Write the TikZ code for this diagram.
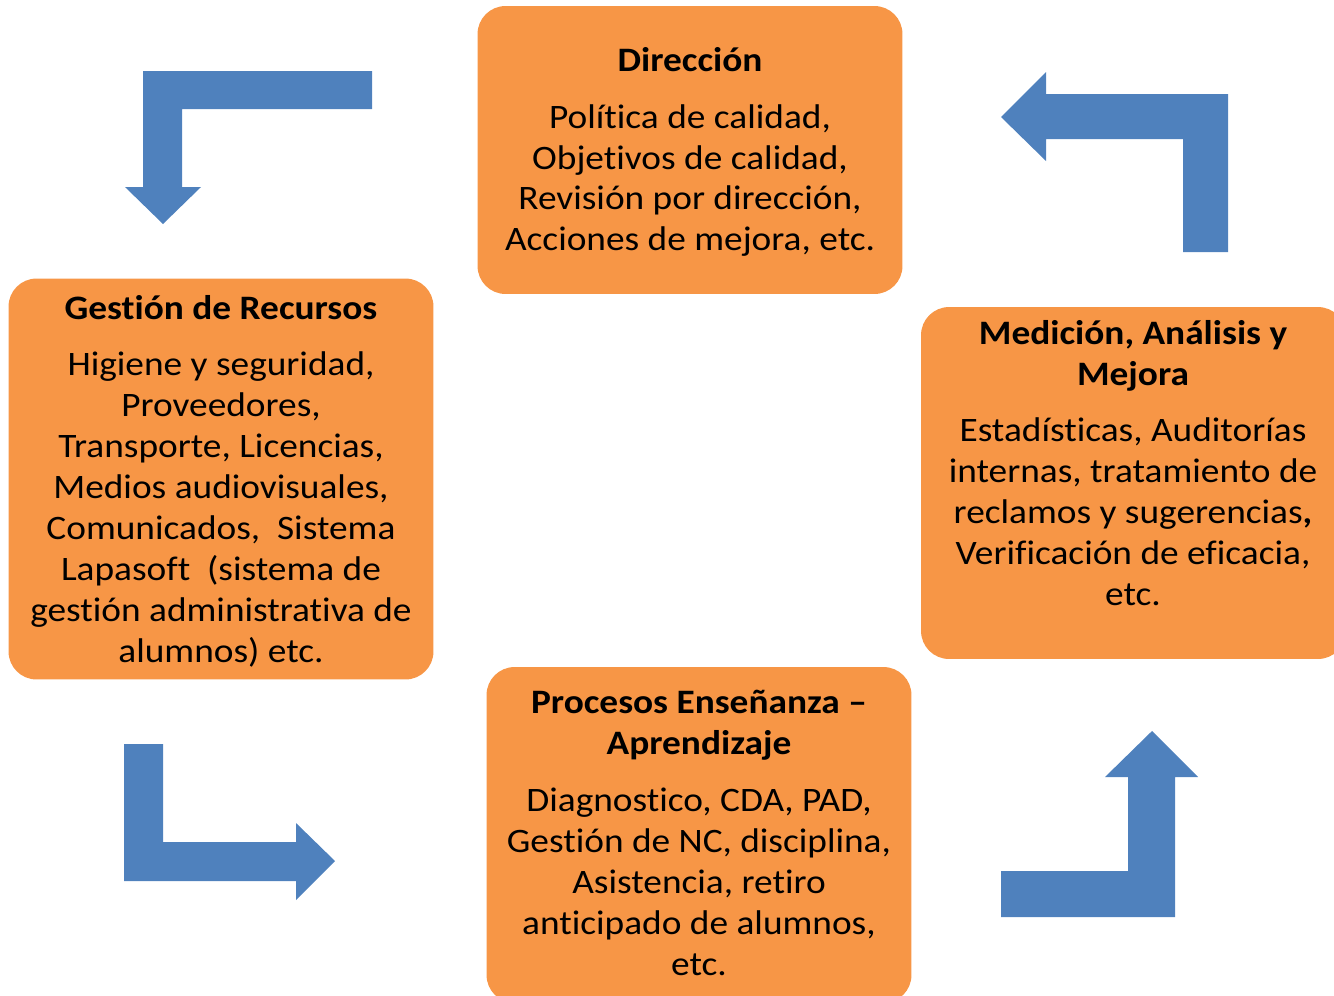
\documentclass[tikz,border=0pt]{standalone}
\usepackage{fontspec}
\setmainfont{Carlito}[FakeStretch=1.09,Ligatures={NoCommon}]
\definecolor{naranja}{HTML}{F79646}
\definecolor{azul}{HTML}{4F81BD}

\begin{document}
\begin{tikzpicture}[x=0.02cm,y=-0.02cm,
  caja/.style={fill=naranja,draw=none,rounded corners=0.56cm,minimum width=8.5cm},
  texto/.style={align=center,inner sep=0pt,font=\fontsize{19.5pt}{23.3pt}\selectfont},
  flecha/.style={fill=azul,draw=none}]

\clip (0,0) rectangle (1334,995); %marco

% cajas
\node[caja,minimum height=5.76cm] (dir) at (690,150) {};
\node[caja,minimum height=8.02cm] (rec) at (221,479) {};
\node[caja,minimum height=7.04cm] (med) at (1133.5,483) {};
\node[caja,minimum height=6.72cm] (pro) at (699,835) {};

% textos
\node[texto] (dirtxt) at (690,152) {\textbf{Dirección}\\[9pt]
  Política de calidad,\\ Objetivos de calidad,\\ Revisión por dirección,\\ Acciones de mejora, etc.};
\node[texto] (rectxt) at (221,481) {\textbf{Gestión de Recursos}\\[9pt]
  Higiene y seguridad,\\ Proveedores,\\ Transporte, Licencias,\\ Medios audiovisuales,\\
  Comunicados,\ \ Sistema\\ Lapasoft\ \ (sistema de\\ gestión administrativa de\\ alumnos) etc.};
\node[texto] (medtxt) at (1133,463) {\textbf{Medición, Análisis y}\\ \textbf{Mejora}\\[9pt]
  Estadísticas, Auditorías\\ internas, tratamiento de\\ reclamos y sugerencias\textbf{,}\\
  Verificación de eficacia,\\ etc.};
\node[texto] (protxt) at (699,833) {\textbf{Procesos Enseñanza --}\\ \textbf{Aprendizaje}\\[9pt]
  Diagnostico, CDA, PAD,\\ Gestión de NC, disciplina,\\ Asistencia, retiro\\
  anticipado de alumnos,\\ etc.};

% flechas
\fill[flecha] (372,71)--(143,71)--(143,187)--(125,187)--(163,224)--(201,187)--(182,187)--(182,109)--(372,109)--cycle; %dir -> rec
\fill[flecha] (124,744)--(163,744)--(163,842)--(296,842)--(296,823)--(335,861)--(296,900)--(296,881)--(124,881)--cycle; %rec -> pro
\fill[flecha] (1001,917)--(1175,917)--(1175,777)--(1198,777)--(1152,731)--(1105,777)--(1128,777)--(1128,871)--(1001,871)--cycle; %pro -> med
\fill[flecha] (1228,252)--(1228,94)--(1046,94)--(1046,72)--(1001,117)--(1046,161)--(1046,139)--(1183,139)--(1183,252)--cycle; %med -> dir

\end{tikzpicture}
\end{document}
